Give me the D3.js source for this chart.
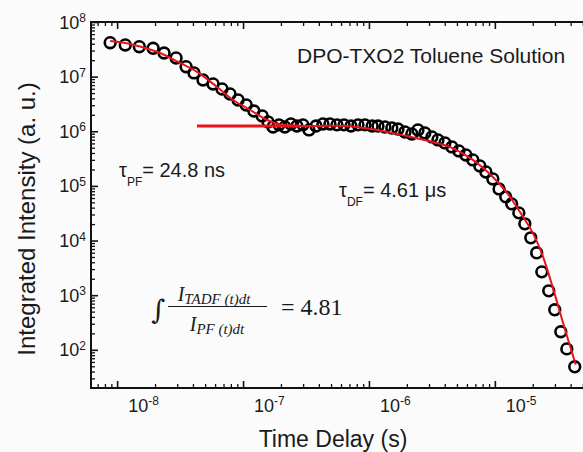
<!DOCTYPE html>
<html><head><meta charset="utf-8">
<script src="https://cdn.jsdelivr.net/npm/d3@7"></script>
<style>body{margin:0;background:#fbfbfb} svg{display:block}</style>
</head><body><svg id="c" width="583" height="452"></svg>
<script>
// ---- data ----
const timeS = [8.8e-9,1.16e-8,1.50e-8,1.93e-8,2.36e-8,2.94e-8,3.53e-8,4.08e-8,4.81e-8,5.78e-8,
  6.81e-8,7.88e-8,9.13e-8,1.06e-7,1.22e-7,1.42e-7,1.58e-7,1.73e-7,1.93e-7,2.15e-7,
  2.40e-7,2.68e-7,2.99e-7,3.34e-7,3.80e-7,4.31e-7,4.90e-7,5.57e-7,6.34e-7,7.20e-7,
  8.18e-7,9.30e-7,1.06e-6,1.18e-6,1.34e-6,1.52e-6,1.70e-6,1.93e-6,2.19e-6,2.45e-6,
  2.78e-6,3.16e-6,3.53e-6,4.01e-6,4.56e-6,5.18e-6,5.89e-6,6.69e-6,7.60e-6,8.49e-6,
  9.64e-6,1.08e-5,1.22e-5,1.36e-5,1.55e-5,1.73e-5,1.93e-5,2.15e-5,2.36e-5,2.68e-5,
  2.99e-5,3.34e-5,3.73e-5,4.31e-5];
const intensity = [4.18e7,3.80e7,3.53e7,3.30e7,2.71e7,2.20e7,1.52e7,1.17e7,8.69e6,7.35e6,
  5.95e6,4.82e6,3.74e6,3.03e6,2.35e6,1.91e6,1.48e6,1.20e6,1.31e6,1.20e6,
  1.36e6,1.25e6,1.31e6,1.06e6,1.25e6,1.36e6,1.36e6,1.31e6,1.31e6,1.25e6,
  1.31e6,1.31e6,1.25e6,1.25e6,1.20e6,1.15e6,1.10e6,9.72e5,8.94e5,1.06e6,
  9.33e5,7.88e5,6.95e5,6.12e5,5.17e5,4.37e5,3.69e5,2.99e5,2.32e5,1.80e5,
  1.34e5,8.81e4,6.30e4,4.69e4,3.21e4,2.02e4,1.12e4,5.96e3,2.67e3,1.20e3,
  540,214,104,48.9];
const fitTime = [8.8e-9,1.16e-8,1.52e-8,2.19e-8,3.16e-8,4.31e-8,6.22e-8,8.33e-8,1.14e-7,1.55e-7,
  1.97e-7,2.83e-7,7.07e-7,1.39e-6,2.54e-6,3.66e-6,4.39e-6,6.69e-6,9.64e-6,1.25e-5,
  1.58e-5,2.00e-5,2.40e-5,2.89e-5,3.47e-5,4.39e-5];
const fitIntensity = [4.49e7,4.13e7,3.56e7,2.71e7,1.78e7,1.22e7,6.47e6,3.74e6,2.45e6,1.61e6,
  1.33e6,1.25e6,1.23e6,9.72e5,7.24e5,5.87e5,5.17e5,2.99e5,1.46e5,7.45e4,
  3.35e4,1.38e4,5.25e3,1.36e3,320,53.2];
const plateauTime = [4.31e-8, 2.83e-7];
const plateauLevel = 1.25e6;
const xMajorTicks = [1e-8, 1e-7, 1e-6, 1e-5];
const xTickExp = ["-8", "-7", "-6", "-5"];
const yMajorTicks = [1e2, 1e3, 1e4, 1e5, 1e6, 1e7, 1e8];
const yTickExp = ["2", "3", "4", "5", "6", "7", "8"];
const xDomain = [6.2e-9, 5.2e-5];
const yDomain = [20, 1e8];

// ---- layout ----
const L = 91, R = 585, T = 22, B = 388;
const svg = d3.select("#c");
svg.append("rect").attr("width", 583).attr("height", 452).attr("fill", "#fbfbfb");
const x = d3.scaleLog().domain(xDomain).range([L, R]);
const y = d3.scaleLog().domain(yDomain).range([B, T]);

function minorTicks(dom) {
  const out = [];
  const lo = Math.floor(Math.log10(dom[0])), hi = Math.ceil(Math.log10(dom[1]));
  for (let d = lo; d <= hi; d++) for (let k = 2; k <= 9; k++) {
    const v = k * Math.pow(10, d);
    if (v > dom[0] && v < dom[1]) out.push(v);
  }
  return out;
}
const xMinor = minorTicks(xDomain), yMinor = minorTicks(yDomain);

function styleAxis(g, w) {
  g.select(".domain").remove();
  g.selectAll("line").attr("stroke", "#111").attr("stroke-width", w);
  g.selectAll("text").remove();
}
// bottom
svg.append("g").attr("transform", `translate(0,${B})`)
  .call(d3.axisBottom(x).tickValues(xMinor).tickSize(-4).tickSizeOuter(0)).call(g => styleAxis(g, 1.3));
svg.append("g").attr("transform", `translate(0,${B})`)
  .call(d3.axisBottom(x).tickValues(xMajorTicks).tickSize(-7).tickSizeOuter(0)).call(g => styleAxis(g, 1.6));
// top
svg.append("g").attr("transform", `translate(0,${T})`)
  .call(d3.axisTop(x).tickValues(xMinor).tickSize(-4).tickSizeOuter(0)).call(g => styleAxis(g, 1.3));
svg.append("g").attr("transform", `translate(0,${T})`)
  .call(d3.axisTop(x).tickValues(xMajorTicks).tickSize(-7).tickSizeOuter(0)).call(g => styleAxis(g, 1.6));
// left
svg.append("g").attr("transform", `translate(${L},0)`)
  .call(d3.axisLeft(y).tickValues(yMinor).tickSize(-4).tickSizeOuter(0)).call(g => styleAxis(g, 1.3));
svg.append("g").attr("transform", `translate(${L},0)`)
  .call(d3.axisLeft(y).tickValues(yMajorTicks).tickSize(-7).tickSizeOuter(0)).call(g => styleAxis(g, 1.6));

// frame lines
svg.append("path").attr("d", `M${R},${T}H${L}V${B}H${R}`).attr("fill", "none")
  .attr("stroke", "#111").attr("stroke-width", 2);

const sans = "Liberation Sans, Arial, sans-serif";
// x tick labels
xMajorTicks.forEach((v, i) => {
  const t = svg.append("text").attr("x", x(v) + 11).attr("y", 412)
    .attr("font-family", sans).attr("font-size", 18).attr("fill", "#1a1a1a");
  t.append("tspan").text("10");
  t.append("tspan").attr("font-size", 12).attr("dy", -7).text(xTickExp[i]);
});
// y tick labels
yMajorTicks.forEach((v, i) => {
  const t = svg.append("text").attr("x", 86).attr("y", y(v) + 6.5).attr("text-anchor", "end")
    .attr("font-family", sans).attr("font-size", 18).attr("fill", "#1a1a1a");
  t.append("tspan").text("10");
  t.append("tspan").attr("font-size", 12).attr("dy", -6.5).text(yTickExp[i]);
});

// axis titles
svg.append("text").attr("transform", "translate(35,219) rotate(-90)").attr("text-anchor", "middle")
  .attr("font-family", sans).attr("font-size", 24).attr("fill", "#1a1a1a").text("Integrated Intensity (a. u.)");
svg.append("text").attr("x", 333).attr("y", 447).attr("text-anchor", "middle")
  .attr("font-family", sans).attr("font-size", 23).attr("fill", "#1a1a1a").text("Time Delay (s)");

// data circles
svg.append("g").selectAll("circle").data(timeS.map((t, i) => [t, intensity[i]])).join("circle")
  .attr("cx", d => x(d[0])).attr("cy", d => y(d[1])).attr("r", 5.4)
  .attr("fill", "none").attr("stroke", "#000").attr("stroke-width", 2.6);

// fit lines
const red = "#e8141b";
svg.append("line").attr("x1", x(plateauTime[0])).attr("x2", x(plateauTime[1]))
  .attr("y1", y(plateauLevel)).attr("y2", y(plateauLevel)).attr("stroke", red).attr("stroke-width", 3);
const line = d3.line().x(d => x(d[0])).y(d => y(d[1])).curve(d3.curveCatmullRom.alpha(0.5));
svg.append("path").attr("d", line(fitTime.map((t, i) => [t, fitIntensity[i]])))
  .attr("fill", "none").attr("stroke", red).attr("stroke-width", 2);

// annotations
svg.append("text").attr("x", 297).attr("y", 63).attr("font-family", sans).attr("font-size", 21)
  .attr("fill", "#1a1a1a").text("DPO-TXO2 Toluene Solution");

function tauLabel(x0, yb, sub, rest) {
  const t = svg.append("text").attr("x", x0).attr("y", yb).attr("font-family", sans)
    .attr("font-size", 20).attr("fill", "#1a1a1a");
  t.append("tspan").text("τ");
  t.append("tspan").attr("font-size", 12).attr("dy", 9).text(sub);
  t.append("tspan").attr("dy", -9).text(rest);
}
tauLabel(119, 177, "PF", "= 24.8 ns");
tauLabel(339, 197, "DF", "= 4.61 μs");

// formula
const serif = "Liberation Serif, Times New Roman, serif";
svg.append("text").attr("x", 151).attr("y", 319).attr("font-family", "DejaVu Serif, serif")
  .attr("font-size", 27).attr("fill", "#1a1a1a").text("∫");
function frac(cx, yb, sub) {
  const t = svg.append("text").attr("x", cx).attr("y", yb).attr("text-anchor", "middle")
    .attr("font-family", serif).attr("font-style", "italic").attr("font-size", 20).attr("fill", "#1a1a1a");
  t.append("tspan").text("I");
  t.append("tspan").attr("font-size", 15).attr("dy", 3).text(sub + " (t)dt");
}
frac(214, 301, "TADF");
frac(217, 331, "PF");
svg.append("line").attr("x1", 168).attr("x2", 267).attr("y1", 306.5).attr("y2", 306.5)
  .attr("stroke", "#1a1a1a").attr("stroke-width", 1.2);
svg.append("text").attr("x", 281).attr("y", 315).attr("font-family", serif).attr("font-size", 24)
  .attr("fill", "#1a1a1a").text("= 4.81");
</script></body></html>
